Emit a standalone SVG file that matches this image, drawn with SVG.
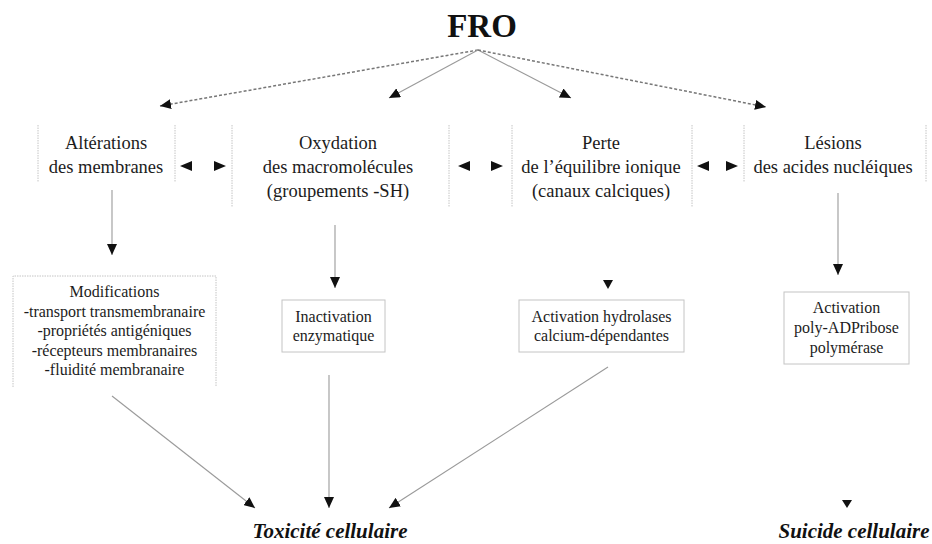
<svg xmlns="http://www.w3.org/2000/svg" width="932" height="544" viewBox="0 0 932 544">
<style>
  .t { font-family: "Liberation Serif", "Times New Roman", serif; fill: #1c1c1c; text-anchor: middle; }
  .top { font-size: 18.5px; }
  .box { font-size: 16px; }
  .res { font-family: "Liberation Serif", "Times New Roman", serif; font-weight: bold; font-style: italic; font-size: 21px; fill: #111; text-anchor: middle; }
  .side { stroke: #c4c4c4; stroke-width: 1; stroke-dasharray: 1.5 1; fill: none; }
  .frame { stroke: #c4c4c4; stroke-width: 1; fill: #fff; }
  .solid { stroke: #9a9a9a; stroke-width: 1.1; fill: none; marker-end: url(#ah); }
  .dot { stroke: #777; stroke-width: 1.5; stroke-dasharray: 3 2; fill: none; marker-end: url(#ah); }
  .head { fill: #111; }
</style>
<defs>
  <marker id="ah" markerUnits="userSpaceOnUse" markerWidth="11" markerHeight="10" refX="11" refY="5" orient="auto" viewBox="0 0 11 10">
    <path d="M0,0 L11,5 L0,10 z" fill="#111"/>
  </marker>
</defs>
<rect width="932" height="544" fill="#fff"/>

<g id="fro">
  <text x="482" y="37" font-family="Liberation Serif, Times New Roman, serif" font-weight="bold" font-size="33" text-anchor="middle" fill="#111">FRO</text>
</g>

<g id="alterations">
  <line class="side" x1="38" y1="125" x2="38" y2="182"/>
  <line class="side" x1="175" y1="125" x2="175" y2="182"/>
  <text class="t top" x="106" y="149">Altérations</text>
  <text class="t top" x="106" y="173">des membranes</text>
</g>
<g id="oxydation">
  <line class="side" x1="232" y1="125" x2="232" y2="207"/>
  <line class="side" x1="449" y1="125" x2="449" y2="207"/>
  <text class="t top" x="338" y="149">Oxydation</text>
  <text class="t top" x="338" y="173">des macromolécules</text>
  <text class="t top" x="338" y="197">(groupements -SH)</text>
</g>
<g id="perte">
  <line class="side" x1="512" y1="125" x2="512" y2="207"/>
  <line class="side" x1="692" y1="125" x2="692" y2="207"/>
  <text class="t top" x="601" y="149">Perte</text>
  <text class="t top" x="601" y="173">de l’équilibre ionique</text>
  <text class="t top" x="601" y="197">(canaux calciques)</text>
</g>
<g id="lesions">
  <line class="side" x1="744" y1="125" x2="744" y2="182"/>
  <line class="side" x1="926" y1="125" x2="926" y2="182"/>
  <text class="t top" x="833" y="149">Lésions</text>
  <text class="t top" x="833" y="173">des acides nucléiques</text>
</g>

<g id="modifications">
  <rect x="13" y="276" width="203" height="111" fill="#fff"/>
  <path class="side" d="M13,387 V276 H216 V387"/>
  <text class="t box" x="114.5" y="297">Modifications</text>
  <text class="t box" x="114.5" y="316.5">-transport transmembranaire</text>
  <text class="t box" x="114.5" y="336">-propriétés antigéniques</text>
  <text class="t box" x="114.5" y="355.5">-récepteurs membranaires</text>
  <text class="t box" x="114.5" y="375">-fluidité membranaire</text>
</g>
<g id="inactivation">
  <rect class="frame" x="282" y="300" width="103" height="52"/>
  <text class="t box" x="333.5" y="322">Inactivation</text>
  <text class="t box" x="333.5" y="341">enzymatique</text>
</g>
<g id="hydrolases">
  <rect class="frame" x="519" y="300" width="165" height="52"/>
  <text class="t box" x="601.5" y="322">Activation hydrolases</text>
  <text class="t box" x="601.5" y="341">calcium-dépendantes</text>
</g>
<g id="polyadp">
  <rect class="frame" x="784" y="292" width="125" height="72"/>
  <text class="t box" x="846.5" y="313">Activation</text>
  <text class="t box" x="846.5" y="333">poly-ADPribose</text>
  <text class="t box" x="846.5" y="353">polymérase</text>
</g>

<g id="toxicite">
  <text class="res" x="330" y="538">Toxicité cellulaire</text>
</g>
<g id="suicide">
  <text class="res" x="854" y="538">Suicide cellulaire</text>
</g>

<g id="connectors">
  <line class="dot" x1="478" y1="50" x2="160" y2="106"/>
  <line class="solid" x1="478" y1="50" x2="389" y2="98"/>
  <line class="solid" x1="478" y1="50" x2="571" y2="98"/>
  <line class="dot" x1="478" y1="50" x2="766" y2="107"/>

  <path class="head" d="M180,166 L192,161 L192,171 z M226,166 L214,161 L214,171 z"/>
  <path class="head" d="M458,166 L470,161 L470,171 z M503,166 L491,161 L491,171 z"/>
  <path class="head" d="M697,166 L709,161 L709,171 z M738,166 L726,161 L726,171 z"/>

  <line class="solid" x1="112" y1="190" x2="112" y2="255"/>
  <line class="solid" x1="335" y1="225" x2="335" y2="288"/>
  <path class="head" d="M603,280 L613,280 L608,289 z"/>
  <line class="solid" x1="838" y1="193" x2="838" y2="275"/>

  <line class="solid" x1="112" y1="396" x2="255" y2="508"/>
  <line class="solid" x1="329" y1="375" x2="329" y2="508"/>
  <line class="solid" x1="608" y1="367" x2="389" y2="508"/>
  <path class="head" d="M842,500 L852,500 L847,508 z"/>
</g>
</svg>
